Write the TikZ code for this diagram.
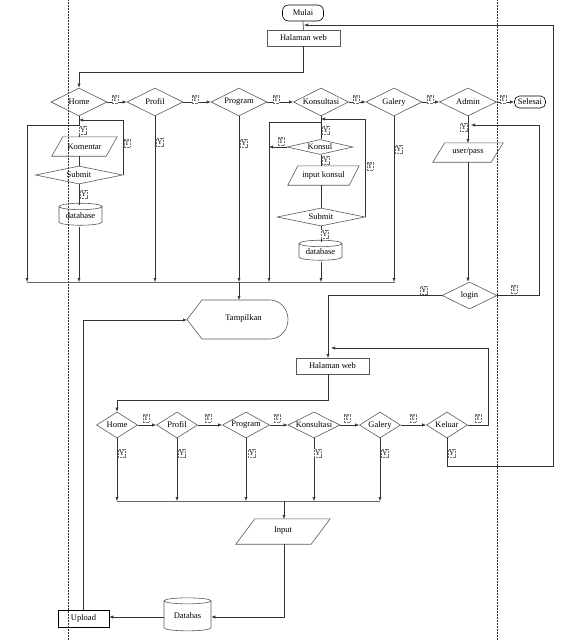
\documentclass[tikz,border=0pt]{standalone}
\usepackage{fontspec}
\setmainfont{Liberation Serif}
\usetikzlibrary{arrows.meta,shapes.geometric,calc}
\newcommand{\mypara}[2]{\draw[shp] ([xshift=#2]#1.north west) -- (#1.north east) -- ([xshift=-#2]#1.south east) -- (#1.south west) -- cycle;}
\begin{document}
\begin{tikzpicture}[x=1pt,y=-1pt,
  every node/.style={font=\fontsize{8.5}{9}\selectfont, inner sep=0pt},
  ln/.style={draw=black!80, line width=0.6pt},
  arr/.style={ln, -{Latex[length=4pt,width=3.2pt]}},
  shp/.style={draw=black!65, line width=0.6pt},
  dia/.style args={#1/#2}{diamond, shp, minimum width=#1, minimum height=#2},
  cyl/.style args={#1/#2}{cylinder, shape border rotate=90, aspect=0.22, shp, minimum width=#1, minimum height=#2},
  box/.style args={#1/#2}{rectangle, shp, minimum width=#1, minimum height=#2},
  term/.style args={#1/#2}{rectangle, rounded corners=6pt, draw=black, line width=0.6pt, minimum width=#1, minimum height=#2},
  pbox/.style args={#1/#2}{rectangle, minimum width=#1, minimum height=#2},
  lbl/.style={draw=black!55, densely dotted, inner xsep=1pt, inner ysep=1.5pt, font=\fontsize{7}{7}\selectfont, fill=white},
  bus/.style={draw=black!60, line width=1pt}]
\useasboundingbox (0,0) rectangle (574,640);

% dotted guide lines
\draw[densely dotted, black!80, line width=0.5pt] (68,0) -- (68,640);
\draw[densely dotted, black!80, line width=0.5pt] (497,0) -- (497,640);

% ---------- top part ----------
\node[term=41/16] (mulai) at (303,13) {Mulai};
\node[box=73/16] (hw1) at (303.5,38) {Halaman web};

\node[dia=56/28] (home) at (79,102) {\makebox[0pt]{Home}};
\node[dia=56/28] (profil) at (155,102) {\makebox[0pt]{Profil}};
\node[dia=56/28] (program) at (239,102) {\makebox[0pt]{Program}};
\node[dia=55/28] (kons) at (321,102) {\makebox[0pt]{Konsultasi}};
\node[dia=56/28] (galery) at (394,102) {\makebox[0pt]{Galery}};
\node[dia=57/28] (admin) at (468,102) {\makebox[0pt]{Admin}};
\node[term=31/12, rounded corners=5pt] (selesai) at (530,102) {Selesai};

\node[pbox=65/19] (kom) at (84.5,146.5) {Komentar};
\mypara{kom}{11pt}
\node[dia=87/18] (sub1) at (79,175) {\makebox[0pt]{Submit}};
\node[cyl=43/22] (db1) at (80.5,216) {database};

\node[dia=66/15] (konsul) at (320,147) {\makebox[0pt]{Konsul}};
\node[pbox=71/19] (ikon) at (323.5,175.5) {input konsul};
\mypara{ikon}{10pt}
\node[dia=88/18] (sub2) at (321,217) {\makebox[0pt]{Submit}};
\node[cyl=43/20] (db2) at (320.5,252) {database};

\node[pbox=70/19] (up) at (468,152.5) {\raisebox{3pt}{user/pass}};
\mypara{up}{12pt}
\node[dia=55/27] (login) at (469.5,295.5) {\makebox[0pt]{login}};

% Tampilkan (display shape)
\node[pbox=101/39] (tamp) at (237.5,319.5) {\hspace{12pt}\raisebox{4pt}{Tampilkan}};
\draw[shp] (187,319.5) -- (202,300) -- (270,300) arc[start angle=-90,end angle=90,x radius=18,y radius=19.5] -- (202,339) -- cycle;

% coordinates
\coordinate (c1) at (79,72);
\coordinate (hb) at (79,125);
\coordinate (hr) at (79,120);
\coordinate (kb) at (321,122);
\coordinate (kr) at (321,119);
\coordinate (ar) at (471,125);
\coordinate (ret) at (304,25);
\coordinate (hw2in) at (331,348);

% connectors top
\draw[ln] (mulai.south) -- (hw1.north);
\draw[arr] (hw1.south) |- (c1) -- (home.north);
\draw[arr] (home.east) -- (profil.west);
\draw[arr] (profil.east) -- (program.west);
\draw[arr] (program.east) -- (kons.west);
\draw[arr] (kons.east) -- (galery.west);
\draw[arr] (galery.east) -- (admin.west);
\draw[arr] (admin.east) -- (selesai.west);

\draw[ln] (home.south) -- (home.south |- kom.north);
\draw[arr] (hb) -- (27,125) -- (27,282);
\draw[arr] (sub1.east) |- (hr);
\draw[ln] (home.south |- kom.south) -- (sub1.north);
\draw[ln] (sub1.south) -- (79,205);
\draw[arr] (79,227) -- (79,282);
\draw[arr] (profil.south) -- (155,282);
\draw[arr] (program.south) -- (239,282);

\draw[ln] (kons.south) -- (konsul.north -| kons.south);
\draw[arr] (kb) -- (269,122) -- (269,282);
\draw[arr] (sub2.east) |- (kr);
\draw[arr] (konsul.west) -- (269,147);
\draw[ln] (321,154.5) -- (321,166);
\draw[ln] (321,185) -- (sub2.north);
\draw[ln] (sub2.south) -- (321,242);
\draw[arr] (321,262) -- (321,282);
\draw[arr] (galery.south) -- (394,282);

\draw[bus] (27,282) -- (395,282);
\draw[arr] (239,282) -- (239,300);

\draw[arr] (admin.south) -- (468,143);
\draw[arr] (468,162) -- (login.north -| 468,162);
\draw[arr] (login.east) -- (539,295.5) -- (539,125) -- (ar);
\draw[arr] (login.west) -- (328,295.5) -- (328,358);

% ---------- lower part ----------
\node[box=73/16] (hw2) at (332.5,366) {Halaman web};

\node[dia=41/26] (home2) at (117,425) {\makebox[0pt]{Home}};
\node[dia=41/26] (profil2) at (177,425) {\makebox[0pt]{Profil}};
\node[dia=47/26] (program2) at (246,425) {\makebox[0pt]{Program}};
\node[dia=52/26] (kons2) at (314,425) {\makebox[0pt]{Konsultasi}};
\node[dia=41/26] (galery2) at (380,425) {\makebox[0pt]{Galery}};
\node[dia=41/26] (keluar) at (447,425) {\makebox[0pt]{Keluar}};

\draw[arr] (328,374) -- (328,400) -- (117,400) -- (home2.north);
\draw[arr] (home2.east) -- (profil2.west);
\draw[arr] (profil2.east) -- (program2.west);
\draw[arr] (program2.east) -- (kons2.west);
\draw[arr] (kons2.east) -- (galery2.west);
\draw[arr] (galery2.east) -- (keluar.west);
\draw[arr] (keluar.east) -- (488,425) -- (488,348) -- (hw2in);

\draw[arr] (home2.south) -- (117,501);
\draw[arr] (profil2.south) -- (177,501);
\draw[arr] (program2.south) -- (246,501);
\draw[arr] (kons2.south) -- (314,501);
\draw[arr] (galery2.south) -- (380,501);
\draw[bus] (117,501) -- (380,501);
\draw[ln] (keluar.south) -- (447,466) -- (553,466) -- (553,25);
\draw[arr] (553,25) -- (ret);

\node[pbox=94/25] (input) at (283,531.5) {\raisebox{3pt}{Input}};
\mypara{input}{19pt}
\node[cyl=47/33] (db3) at (187.5,616) {Databas};
\node[box=51/17, draw=black] (upload) at (83.5,618.5) {Upload};

\draw[arr] (284,501) -- (284,519);
\draw[arr] (284,544) -- (284,617) -- (db3.east |- 284,617);
\draw[arr] (db3.west |- 0,617) -- (upload.east |- 0,617);
\draw[arr] (upload.north -| 83,0) -- (83,320) -- (187,320);

% ---------- labels ----------
\node[lbl] (l1) at (115,99) {T};
\node[lbl] (l2) at (195,99) {T};
\node[lbl] (l3) at (276,99) {T};
\node[lbl] (l4) at (356,99) {T};
\node[lbl] (l5) at (430,99) {T};
\node[lbl] (l6) at (503,99) {T};
\node[lbl] (l7) at (83,130) {Y};
\node[lbl] (l8) at (127,143) {T};
\node[lbl] (l9) at (84,194) {Y};
\node[lbl] (l10) at (160,142) {Y};
\node[lbl] (l11) at (244,143) {Y};
\node[lbl] (l12) at (326,130) {Y};
\node[lbl] (l13) at (281,141) {T};
\node[lbl] (l14) at (326,160) {Y};
\node[lbl] (l15) at (370,166) {T};
\node[lbl] (l16) at (325,234) {Y};
\node[lbl] (l17) at (399,149) {Y};
\node[lbl] (l18) at (464,127) {Y};
\node[lbl] (l19) at (514,289) {T};
\node[lbl] (l20) at (424,290) {Y};
\node[lbl] (b1) at (146,418) {T};
\node[lbl] (b2) at (208,418) {T};
\node[lbl] (b3) at (277,418) {T};
\node[lbl] (b4) at (347,418) {T};
\node[lbl] (b5) at (413,418) {T};
\node[lbl] (b6) at (478,418) {T};
\node[lbl] (b7) at (122,453) {Y};
\node[lbl] (b8) at (182,453) {Y};
\node[lbl] (b9) at (252,453) {Y};
\node[lbl] (b10) at (318,453) {Y};
\node[lbl] (b11) at (385,453) {Y};
\node[lbl] (b12) at (452,453) {Y};
\end{tikzpicture}
\end{document}
